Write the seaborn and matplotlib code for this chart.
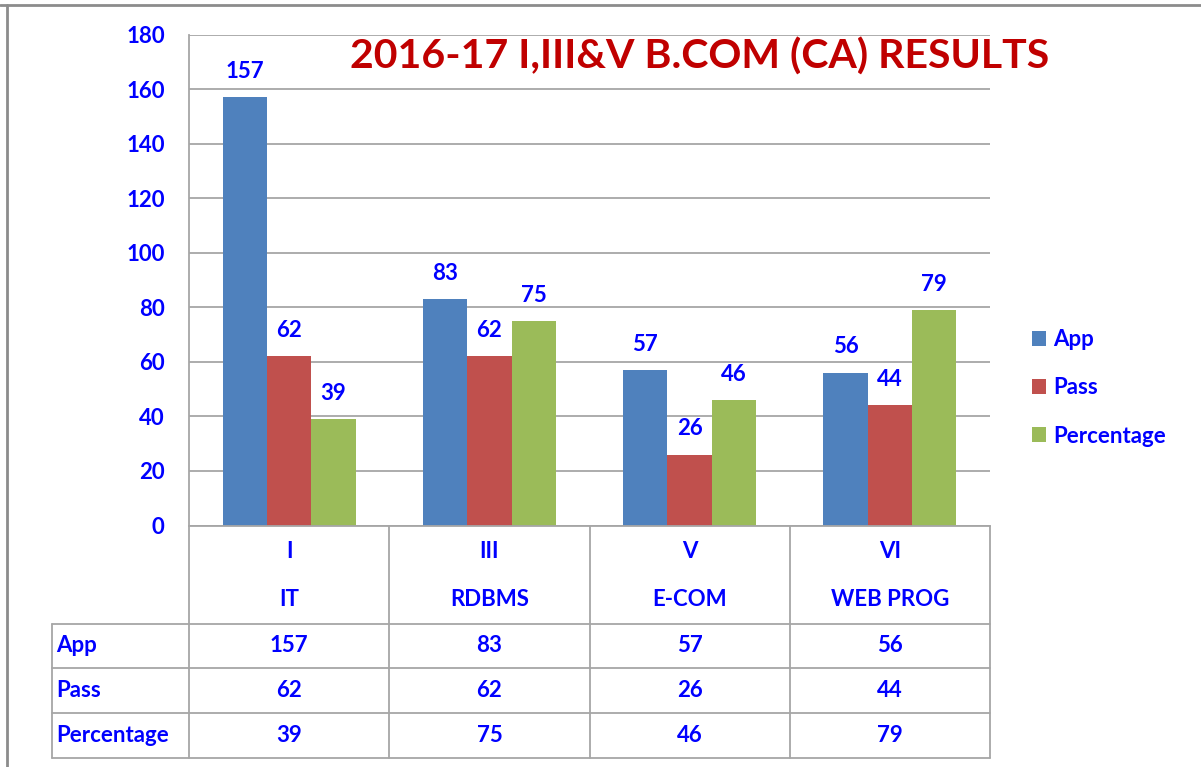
import matplotlib
matplotlib.use("Agg")
import matplotlib.pyplot as plt
import matplotlib.transforms as mtransforms
from matplotlib.lines import Line2D
from matplotlib.patches import Patch
import pandas as pd
import seaborn as sns

# datos del grafico
semestres = ["I", "III", "V", "VI"]
materias = ["IT", "RDBMS", "E-COM", "WEB PROG"]
series = ["App", "Pass", "Percentage"]
app = [157, 83, 57, 56]
aprobados = [62, 62, 26, 44]
porcentaje = [39, 75, 46, 79]
colores = ["#4F81BD", "#C0504D", "#9BBB59"]
titulo = "2016-17 I,III&V B.COM (CA) RESULTS"

AZUL = "#0000FF"
GRIS = "#A6A6A6"
TAM = 16

valores = {"App": app, "Pass": aprobados, "Percentage": porcentaje}
filas = []
for s in series:
    for sem, v in zip(semestres, valores[s]):
        filas.append({"sem": sem, "serie": s, "valor": v})
df = pd.DataFrame(filas)

sns.set_style("white")
plt.rcParams["font.family"] = ["Lato", "DejaVu Sans"]
plt.rcParams["font.weight"] = "bold"

fig = plt.figure(figsize=(12.01, 7.67), dpi=100)
ax = fig.add_axes([189 / 1201, 1 - 525.5 / 767, 801 / 1201, 491 / 767])

sns.barplot(data=df, x="sem", y="valor", hue="serie", order=semestres,
            hue_order=series, palette=colores, width=0.665, saturation=1,
            linewidth=0, ax=ax, legend=False)

ax.set_ylim(0, 180)
ax.set_xlim(-0.5, 3.5)
ax.set_yticks(range(0, 181, 20))
ax.yaxis.grid(True, color=GRIS, lw=1.3)
ax.set_axisbelow(True)
ax.set_xlabel("")
ax.set_ylabel("")
ax.tick_params(axis="y", length=6.5, width=1.2, color=GRIS, pad=11,
               labelcolor=AZUL, labelsize=TAM)
ax.tick_params(axis="x", length=0, labelbottom=False)
for lado in ["top", "right"]:
    ax.spines[lado].set_visible(False)
for lado in ["left", "bottom"]:
    ax.spines[lado].set_color(GRIS)
    ax.spines[lado].set_linewidth(1.3)

# etiquetas de las barras
for cont in ax.containers:
    ax.bar_label(cont, fmt="%d", padding=11, color=AZUL, fontsize=TAM,
                 fontweight="bold")

# titulo dentro del area
fig.text(700 / 1201, 1 - 57 / 767, titulo, color="#C00000", fontsize=29.5,
         fontweight="bold", ha="center", va="center")

# leyenda
handles = [Patch(facecolor=c, edgecolor="none") for c in colores]
fig.legend(handles, series, loc="center left",
           bbox_to_anchor=(1032 / 1201, 1 - 388 / 767), frameon=False,
           fontsize=TAM, labelcolor=AZUL, handlelength=0.64, handleheight=0.64,
           handletextpad=0.3, labelspacing=1.22, borderpad=0, borderaxespad=0)

# tabla de datos debajo del eje
y_cab = -98.5 / 491
y_filas = [y_cab, -142.5 / 491, -187.5 / 491, -232.5 / 491]
x_etq = -137 / 801
lin = dict(color=GRIS, lw=1.3, transform=ax.transAxes, clip_on=False)
for xb in [0, 0.25, 0.5, 0.75, 1]:
    ax.add_line(Line2D([xb, xb], [0, y_filas[-1]], **lin))
ax.add_line(Line2D([x_etq, x_etq], [y_cab, y_filas[-1]], **lin))
for yb in y_filas:
    ax.add_line(Line2D([x_etq, 1], [yb, yb], **lin))

mixto = mtransforms.blended_transform_factory(ax.transData, ax.transAxes)
for i, (sem, mat) in enumerate(zip(semestres, materias)):
    ax.text(i, -25.5 / 491, sem, transform=mixto, ha="center", va="center",
            color=AZUL, fontsize=TAM)
    ax.text(i, -73.5 / 491, mat, transform=mixto, ha="center", va="center",
            color=AZUL, fontsize=TAM)

for j, s in enumerate(series):
    yc = (y_filas[j] + y_filas[j + 1]) / 2
    ax.text(-133 / 801, yc, s, transform=ax.transAxes, ha="left",
            va="center", color=AZUL, fontsize=TAM)
    for i, v in enumerate(valores[s]):
        ax.text(i, yc, str(v), transform=mixto, ha="center", va="center",
                color=AZUL, fontsize=TAM)

# marco de la imagen
fig.add_artist(Line2D([0, 1], [1 - 5 / 767] * 2, transform=fig.transFigure,
                      color="#8C8C8C", lw=2))
fig.add_artist(Line2D([7 / 1201] * 2, [0, 1 - 5 / 767],
                      transform=fig.transFigure, color="#8C8C8C", lw=2))

fig.savefig("out.png", dpi=100)
